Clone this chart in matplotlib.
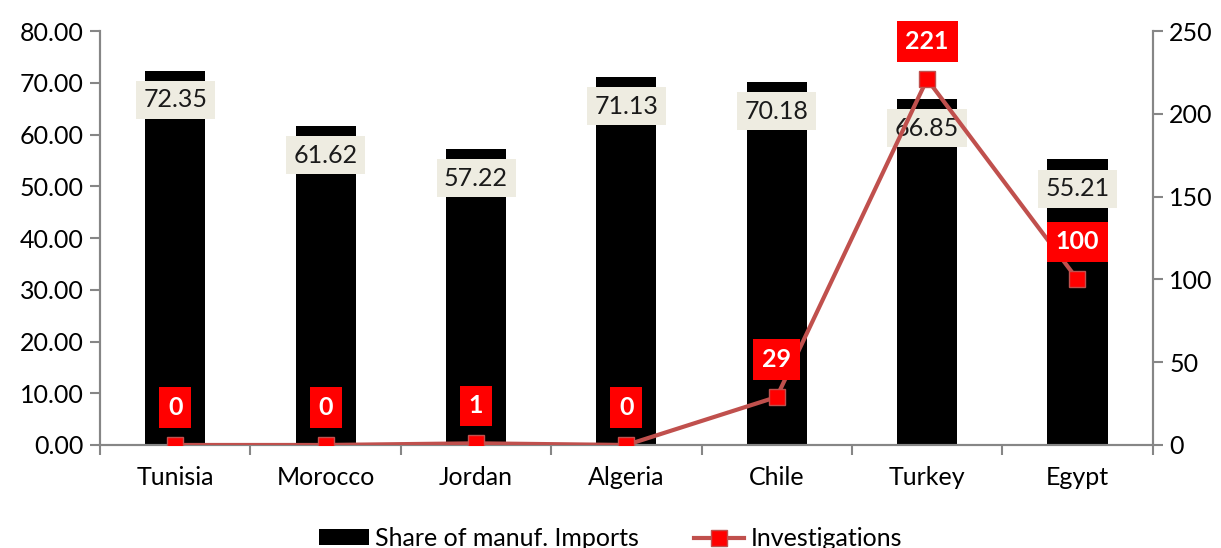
import matplotlib
matplotlib.use("Agg")
import matplotlib.pyplot as plt
from matplotlib.ticker import FormatStrFormatter, FixedLocator
import numpy as np

plt.rcParams['font.family'] = ['Lato', 'DejaVu Sans']

countries = ["Tunisia", "Morocco", "Jordan", "Algeria", "Chile", "Turkey", "Egypt"]
share = [72.35, 61.62, 57.22, 71.13, 70.18, 66.85, 55.21]
investigations = [0, 0, 1, 0, 29, 221, 100]

grey = "#868686"
line_red = "#C0504D"
fs = 18

fig = plt.figure(figsize=(12.21, 5.48), dpi=100)
ax = fig.add_axes([0.082, 0.188, 0.862, 0.755])
ax2 = ax.twinx()

x = np.arange(len(countries))
ax.bar(x, share, width=0.4, color="black", label="Share of manuf. Imports", zorder=2)
ax.set_ylim(0, 80)
ax.set_xlim(-0.5, len(countries) - 0.5)
ax.set_yticks(np.arange(0, 81, 10))
ax.yaxis.set_major_formatter(FormatStrFormatter("%.2f"))
ax.set_xticks(x)
ax.set_xticklabels(countries)
ax.xaxis.set_minor_locator(FixedLocator(np.arange(-0.5, len(countries), 1)))
ax.tick_params(axis="x", which="major", length=0, pad=15, labelsize=fs)
ax.tick_params(axis="x", which="minor", length=7, color=grey, width=1.5)
ax.tick_params(axis="y", length=7, color=grey, width=1.5, labelsize=fs, pad=5)

for v, xi in zip(share, x):
    ax.annotate(f"{v:.2f}", (xi, v), xytext=(0, -21), textcoords="offset points",
                ha="center", va="center", fontsize=fs, color="#1a1a1a", zorder=5,
                bbox=dict(boxstyle="square,pad=0.3", fc="#EEECE1", ec="none"))

ax2.plot(x, investigations, color=line_red, lw=3, marker="s", markersize=12,
         markerfacecolor="#FF0000", markeredgecolor=line_red, markeredgewidth=1,
         label="Investigations", zorder=3)
ax2.set_ylim(0, 250)
ax2.set_yticks(np.arange(0, 251, 50))
ax2.tick_params(axis="y", length=7, color=grey, width=1.5, labelsize=fs, pad=5)

for v, xi in zip(investigations, x):
    ax2.annotate(f"{v}", (xi, v), xytext=(0, 27), textcoords="offset points",
                 ha="center", va="center", fontsize=fs, fontweight="bold", color="white",
                 zorder=6, bbox=dict(boxstyle="square,pad=0.35", fc="#FF0000", ec="none"))

for a in (ax, ax2):
    a.spines["top"].set_visible(False)
    for s in ("left", "right", "bottom"):
        a.spines[s].set_color(grey)
        a.spines[s].set_linewidth(1.5)

ax2.set_zorder(ax.get_zorder() + 1)
ax2.patch.set_visible(False)

h1, l1 = ax.get_legend_handles_labels()
h2, l2 = ax2.get_legend_handles_labels()
fig.legend(h1 + h2, l1 + l2, loc="lower center", bbox_to_anchor=(0.5, -0.045), ncol=2,
           frameon=False, fontsize=fs, handlelength=2.0, handleheight=0.6,
           columnspacing=2.2, handletextpad=0.25)

fig.savefig("out.png", dpi=100)
